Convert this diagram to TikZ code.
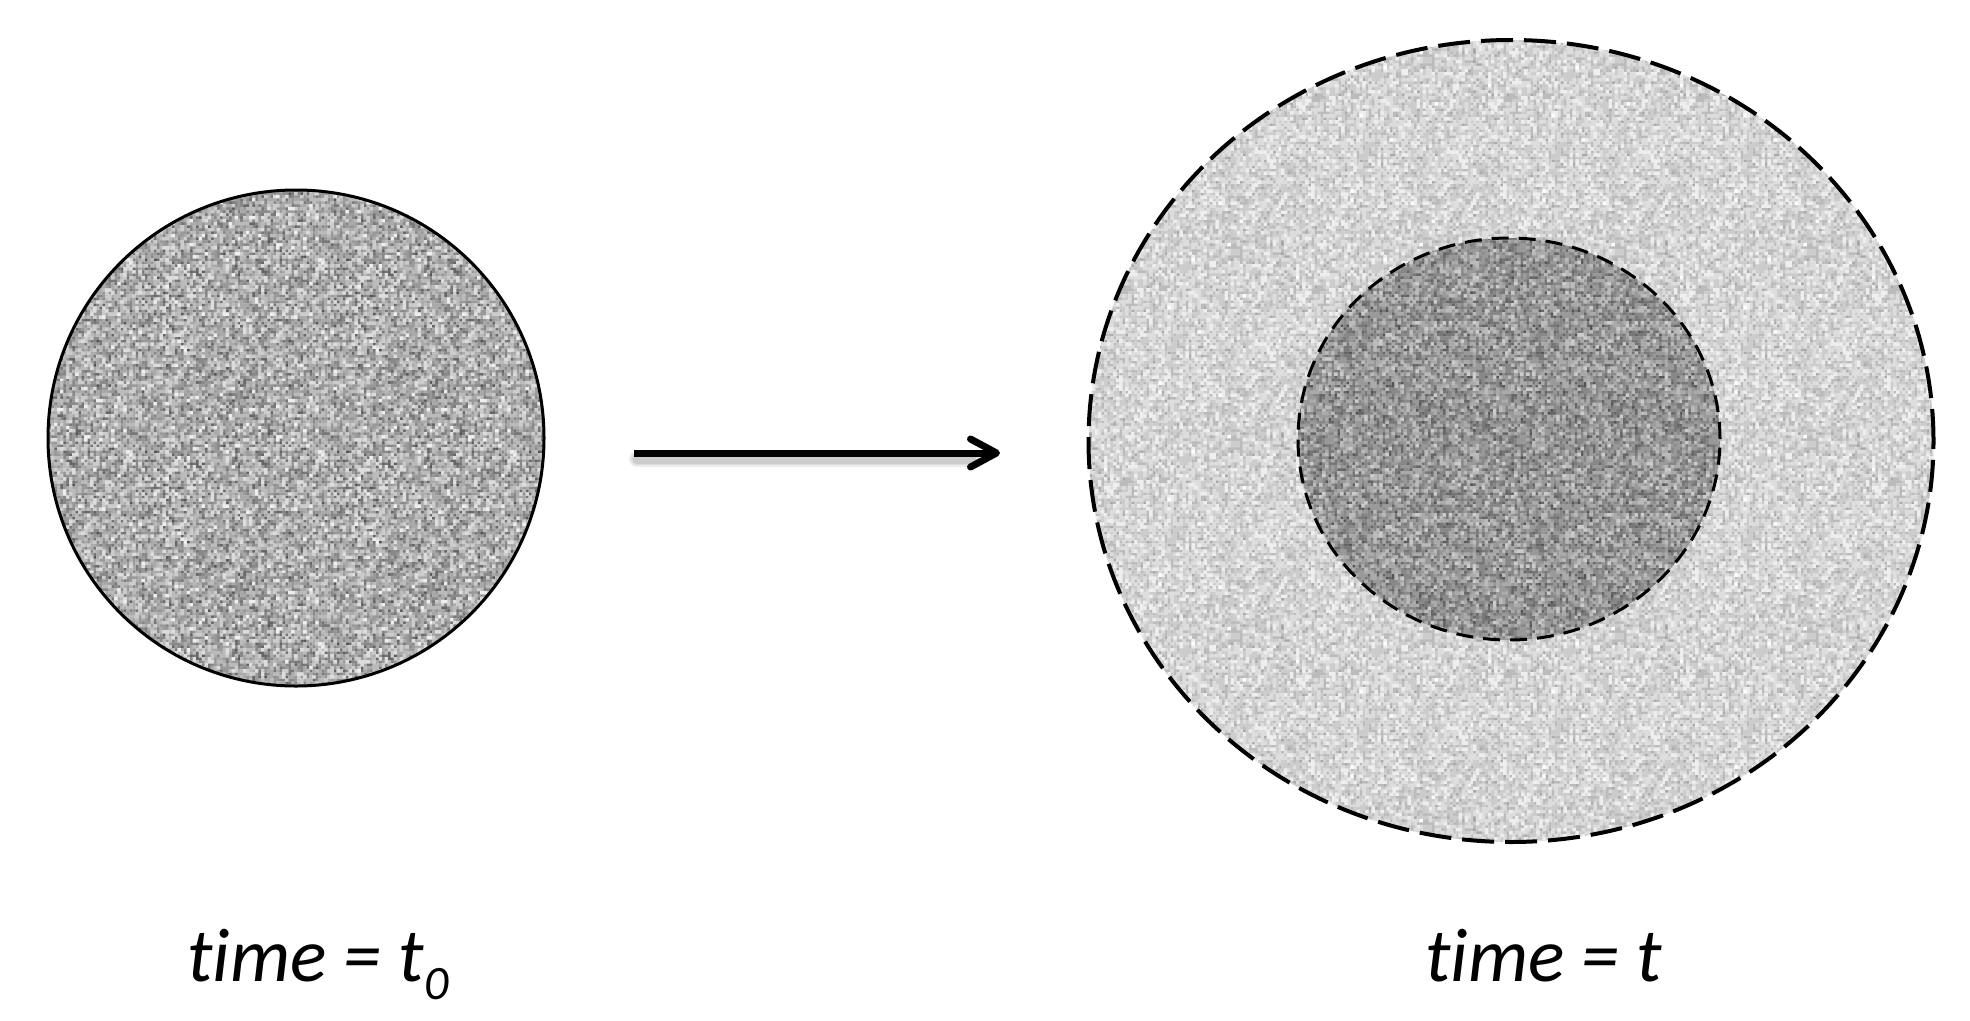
\documentclass[tikz,border=0pt]{standalone}
\usepackage{fontspec}
\setmainfont{Carlito}[Ligatures={NoCommon}]
\usetikzlibrary{arrows.meta,shapes.geometric}

\pgfmathsetseed{12345}
\makeatletter
\protected\def\nzput#1{\pgfsys@invoke{#1}}
% build a 192x192 noise tile: #1 name, #2 mean gray, #3 spread
\def\nzmake#1#2#3{%
  \foreach \k in {0,...,15}{\expandafter\gdef\csname nz@#1@\k\endcsname{}}%
  \foreach \i in {0,...,63}{%
    \foreach \j in {0,...,63}{%
      \pgfmathtruncatemacro\k{round(15*max(0,min(1,#2+#3*(rnd+rnd-1))))}%
      \expandafter\xdef\csname nz@#1@\k\endcsname{\csname nz@#1@\k\endcsname\space\the\numexpr\i*3\relax\space\the\numexpr\j*3\relax\space 3.4 3.4 re}%
    }%
  }%
  \expandafter\gdef\csname nz@#1\endcsname{}%
  \foreach \k in {0,...,15}{%
    \expandafter\ifx\csname nz@#1@\k\endcsname\@empty\else
      \pgfmathsetmacro\gv{\k/15}%
      \expandafter\xdef\csname nz@#1\endcsname{\csname nz@#1\endcsname\nzput{\gv\space g\csname nz@#1@\k\endcsname\space f}}%
    \fi
  }%
}
% tile a region: #1 name, #2 left x, #3 top y + 192, #4 columns-1, #5 rows-1
\def\nzfill#1#2#3#4#5{%
  \foreach \a in {0,...,#4}{%
    \foreach \b in {0,...,#5}{%
      \pgfsys@beginscope
      \pgfsys@transformshift{\dimexpr #2pt+\a pt*192\relax}{\dimexpr -#3pt-\b pt*192\relax}%
      \csname nz@#1\endcsname
      \pgfsys@endscope
    }%
  }%
}
\makeatother
\nzmake{L}{0.65}{0.32}
\nzmake{O}{0.82}{0.16}
\nzmake{I}{0.57}{0.26}

\tikzset{
  blob/.style={ellipse, inner sep=0pt, outer sep=0pt},
  solidrim/.style={draw=black, line width=3pt},
  dashrim/.style={draw=black, line width=4pt, dash pattern=on 32pt off 11pt},
  dashrimsmall/.style={draw=black, line width=3pt, dash pattern=on 17pt off 10pt},
  mainarrow/.style={line width=7pt, -{Straight Barb[length=26pt, width=28pt, round]}},
  arrowshadow/.style={line width=#1, black, opacity=0.07, line cap=round},
  label/.style={anchor=base west, inner sep=0pt, font=\fontsize{76}{82}\selectfont\itshape}
}

\begin{document}
\begin{tikzpicture}[x=1pt, y=-1pt]
\useasboundingbox (0,0) rectangle (1970,1020);

\coordinate (pL) at (296,438);
\coordinate (pO) at (1511,441);
\coordinate (pI) at (1509,439);

% textured fills
\begin{scope}
  \clip (pL) ellipse [x radius=248, y radius=248];
  \nzfill{L}{48}{382}{2}{2}
\end{scope}
\begin{scope}
  \clip (pO) ellipse [x radius=422.5, y radius=401];
  \nzfill{O}{1089}{232}{4}{4}
\end{scope}
\begin{scope}
  \clip (pI) ellipse [x radius=211, y radius=201];
  \nzfill{I}{1298}{430}{2}{2}
\end{scope}

% outlines
\node[blob, solidrim, minimum width=496pt, minimum height=496pt] (c0) at (pL) {};
\node[blob, dashrim, minimum width=845pt, minimum height=802pt] (outer) at (pO) {};
\node[blob, dashrimsmall, minimum width=422pt, minimum height=402pt] (inner) at (pI) {};

% arrow
\coordinate (as) at (634,453);
\coordinate (ae) at (1000,453);
\foreach \w in {16pt,12pt,9pt}{
  \draw[arrowshadow=\w] ([shift={(3,6)}]as) -- ([shift={(-28,6)}]ae);
}
\draw[mainarrow] (as) -- (ae);

% labels
\node[label] (l0) at (187,981) {time = t\raisebox{-18pt}{\fontsize{48}{52}\selectfont 0}};
\node[label] (l1) at (1425,981) {time = t};
\end{tikzpicture}
\end{document}
